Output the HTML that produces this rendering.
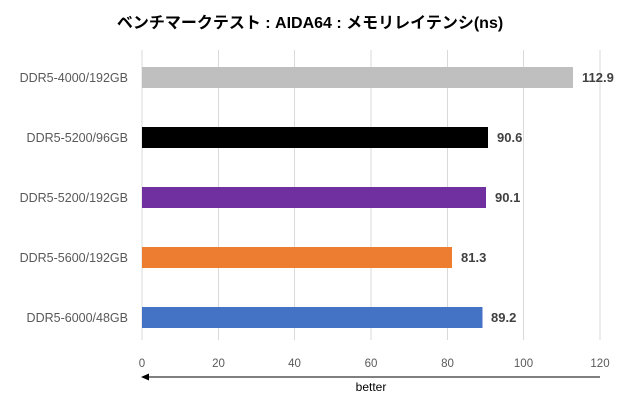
<!DOCTYPE html>
<html><head><meta charset="utf-8"><style>
body{margin:0;background:#fff;}
svg text{font-family:"Liberation Sans","Noto Sans CJK JP",sans-serif;}
</style></head><body>
<svg width="620" height="400" xmlns="http://www.w3.org/2000/svg">
<rect width="620" height="400" fill="#fff"/>
<text x="310" y="28" text-anchor="middle" font-size="16" font-weight="bold" fill="#000">ベンチマークテスト : AIDA64 : メモリレイテンシ(ns)</text>
<g stroke="#d9d9d9" stroke-width="1">
<line x1="142" y1="50" x2="142" y2="340"/>
<line x1="218.5" y1="50" x2="218.5" y2="340"/>
<line x1="294.5" y1="50" x2="294.5" y2="340"/>
<line x1="371" y1="50" x2="371" y2="340"/>
<line x1="447.5" y1="50" x2="447.5" y2="340"/>
<line x1="523.5" y1="50" x2="523.5" y2="340"/>
<line x1="600" y1="50" x2="600" y2="340"/>
</g>
<rect x="142" y="67" width="431" height="21" fill="#bfbfbf"/>
<rect x="142" y="127" width="346" height="21" fill="#000"/>
<rect x="142" y="187" width="344" height="21" fill="#7030a0"/>
<rect x="142" y="247" width="310" height="21" fill="#ed7d31"/>
<rect x="142" y="307" width="340.5" height="21" fill="#4472c4"/>
<g font-size="12.5" fill="#595959" text-anchor="end">
<text x="128" y="82">DDR5-4000/192GB</text>
<text x="128" y="142">DDR5-5200/96GB</text>
<text x="128" y="202">DDR5-5200/192GB</text>
<text x="128" y="262">DDR5-5600/192GB</text>
<text x="128" y="322">DDR5-6000/48GB</text>
</g>
<g font-size="13" font-weight="bold" fill="#404040">
<text x="582" y="82">112.9</text>
<text x="497" y="142">90.6</text>
<text x="495" y="202">90.1</text>
<text x="461" y="262">81.3</text>
<text x="491" y="322">89.2</text>
</g>
<g font-size="11.5" fill="#595959" text-anchor="middle">
<text x="142" y="367">0</text>
<text x="218.5" y="367">20</text>
<text x="294.5" y="367">40</text>
<text x="371" y="367">60</text>
<text x="447.5" y="367">80</text>
<text x="523.5" y="367">100</text>
<text x="600" y="367">120</text>
</g>
<line x1="148" y1="377" x2="600" y2="377" stroke="#000" stroke-width="1"/>
<polygon points="141,377 149,373.5 149,380.5" fill="#000"/>
<text x="371" y="391" font-size="12" fill="#000" text-anchor="middle">better</text>
</svg>
</body></html>
